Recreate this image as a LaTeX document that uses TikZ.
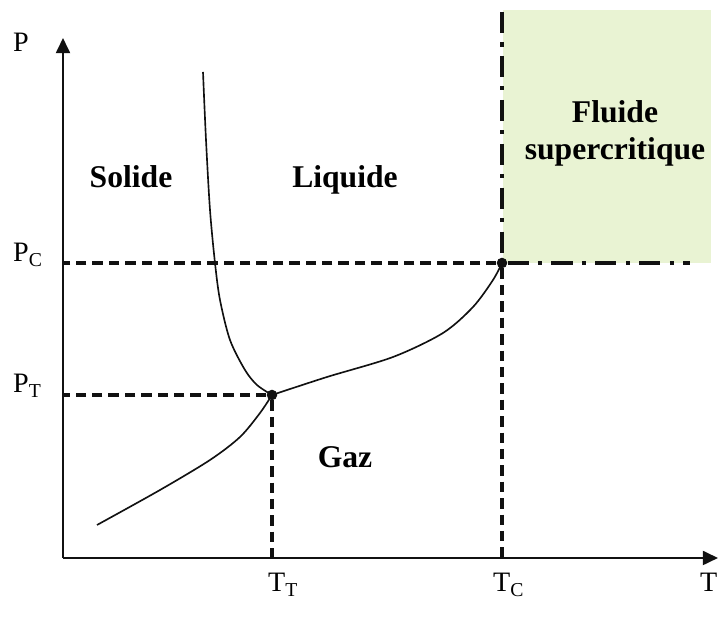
\documentclass[tikz,border=0pt]{standalone}
\usepackage{fontspec}
\setmainfont{Liberation Serif}
\usetikzlibrary{arrows.meta}
\definecolor{Ink}{HTML}{111111}
\definecolor{SuperGreen}{HTML}{E9F3D3}
\tikzset{axis/.style={line width=1.9pt,draw=Ink,-{Triangle[length=13pt,width=12pt]}},curve/.style={line width=1.4pt,draw=Ink},guide/.style={line width=3pt,draw=Ink,dash pattern=on 9pt off 5pt},critline/.style={line width=3.4pt,draw=Ink,dash pattern=on 18pt off 8pt on 3.5pt off 8pt},point/.style={circle,fill=Ink,minimum size=9pt,inner sep=0pt},phase/.style={font=\fontsize{27}{31.5}\selectfont\bfseries,inner sep=0pt},tick/.style={font=\fontsize{24}{28}\selectfont,inner sep=0pt,anchor=base west}}

\begin{document}
\begin{tikzpicture}[x=0.03cm,y=0.03cm]
        \useasboundingbox(0,0)rectangle(721,627);
        \fill[SuperGreen](503,364)rectangle(711,617);
        \coordinate(O)at(63,69);
        \node[point](tp)at(272,232){};
        \node[point](cp)at(502,364){};
        % pointilles vers les axes
        \draw[guide](tp)--(tp-|O);
        \draw[guide](tp)--(tp|-O);
        \draw[guide](cp)--(cp-|O);
        \draw[guide](cp)--(cp|-O);
        \draw[critline](502,615)--(cp);
        \draw[critline](cp)--(690,364);
        % courbes d'equilibre
        \draw[curve]plot[smooth]coordinates{(203,555)(206,487)(210,417)(215,364)(220,327)(230,287)(245,257)(257,242)(272,232)};
        \draw[curve]plot[smooth]coordinates{(97,102)(160,137)(210,167)(240,190)(260,214)(272,232)};
        \draw[curve]plot[smooth]coordinates{(272,232)(327,250)(393,270)(443,294)(473,320)(493,347)(502,364)};
        \draw[axis](O)--(63,589);
        \draw[axis](O)--(718,69);
        \node[tick](plabel)at(13,575){P};
        \node[tick](pclabel)at(13,365){P\textsubscript{C}};
        \node[tick](ptlabel)at(13,234){P\textsubscript{T}};
        \node[tick](ttlabel)at(268,35){T\textsubscript{T}};
        \node[tick](tclabel)at(493,35){T\textsubscript{C}};
        \node[tick](tlabel)at(700,35){T};
        \node[phase,anchor=base](solide)at(131,439){Solide};
        \node[phase,anchor=base](liquide)at(345,439){Liquide};
        \node[phase,anchor=base](gaz)at(345,159){Gaz};
        \node[phase,anchor=north,align=center](fluide)at(615,527){Fluide\\supercritique};
      \end{tikzpicture}
\end{document}
